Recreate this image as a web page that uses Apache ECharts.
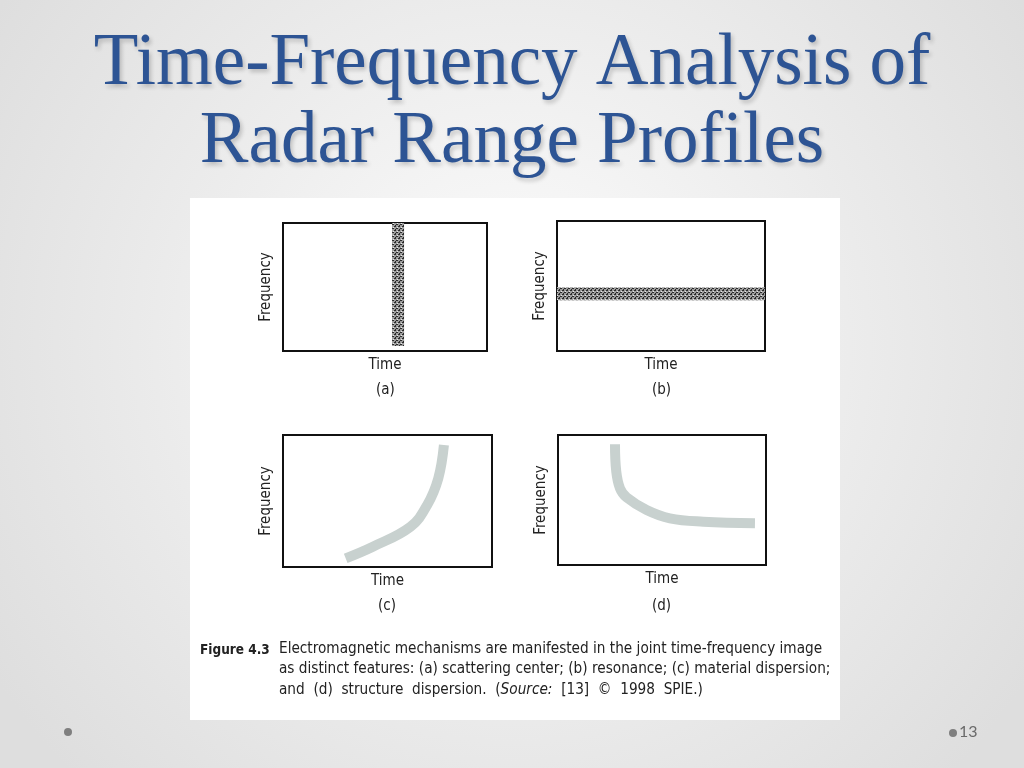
<!DOCTYPE html>
<html>
<head>
<meta charset="utf-8">
<script src="https://cdn.jsdelivr.net/npm/echarts@6/dist/echarts.min.js"></script>
<style>html,body{margin:0;padding:0;background:#eee;}#main{width:1024px;height:768px;}</style>
</head>
<body>
<div id="main"></div>
<script>
// ---- data ----
const slideTitle = ['Time-Frequency Analysis of', 'Radar Range Profiles'];
const panelLabels = ['(a)', '(b)', '(c)', '(d)'];
const xAxisName = 'Time';
const yAxisName = 'Frequency';
// (a) scattering center: vertical line at fixed time
const scatterCenter = [[5.64, 0.39], [5.64, 10]];
// (b) resonance: horizontal line at fixed frequency
const resonance = [[0, 4.4], [10, 4.4]];
// (c) material dispersion
const materialDispersion = [[3.0, 0.66], [4.3, 1.54], [6.1, 3.05], [6.9, 4.7], [7.43, 6.72], [7.7, 9.24]];
// (d) structure dispersion
const structureDispersion = [[2.74, 9.28], [2.8, 7.2], [2.98, 5.9], [3.3, 5.2], [4.26, 4.23], [5.38, 3.59], [6.99, 3.33], [9.47, 3.21]];
const captionLabel = 'Figure 4.3';
const captionLines = [
  'Electromagnetic mechanisms are manifested in the joint time-frequency image',
  'as distinct features: (a) scattering center; (b) resonance; (c) material dispersion;'
];
const captionLast = ['and  (d)  structure  dispersion.  (', 'Source:', '  [13]  \u00A9  1998  SPIE.)'];
const pageNumber = '13';

// ---- rendering ----
function makePattern() {
  const c = document.createElement('canvas');
  c.width = 4; c.height = 4;
  const g = c.getContext('2d');
  g.fillStyle = '#9c9c9c'; g.fillRect(0, 0, 4, 4);
  g.fillStyle = '#2a2a2a';
  g.fillRect(0, 0, 2, 1); g.fillRect(2, 2, 2, 1); g.fillRect(3, 1, 1, 1);
  g.fillStyle = '#e8e8e8';
  g.fillRect(1, 3, 1, 1);
  return {image: c, repeat: 'repeat'};
}
const pat = makePattern();

const grids = [
  {left: 283, top: 223, width: 204, height: 128},
  {left: 557, top: 221, width: 208, height: 130},
  {left: 283, top: 435, width: 209, height: 132},
  {left: 558, top: 435, width: 208, height: 130}
];
const figFont = '"DejaVu Sans Condensed", "Liberation Sans", sans-serif';
const capSize = 15.2;

const chart = echarts.init(document.getElementById('main'));
const option = {
  animation: false,
  backgroundColor: {type: 'radial', x: 0.5, y: 0.45, r: 0.8,
    colorStops: [{offset: 0, color: '#fdfdfd'}, {offset: 1, color: '#dedede'}]},
  title: {
    text: slideTitle.join('\n'), left: 'center', top: 21,
    textStyle: {fontFamily: '"Liberation Serif", serif', fontSize: 73, fontWeight: 'normal',
      color: '#2d5494', lineHeight: 78,
      textShadowColor: 'rgba(0,0,0,0.2)', textShadowBlur: 4, textShadowOffsetX: 2, textShadowOffsetY: 3}
  },
  grid: grids.map(g => Object.assign({show: true, borderColor: '#111', borderWidth: 2, backgroundColor: '#fff'}, g)),
  xAxis: grids.map((g, i) => ({
    gridIndex: i, type: 'value', min: 0, max: 10,
    name: xAxisName, nameLocation: 'middle', nameGap: 7,
    nameTextStyle: {fontFamily: figFont, fontSize: 15, color: '#222'},
    axisLine: {show: false}, axisTick: {show: false}, axisLabel: {show: false}, splitLine: {show: false}
  })),
  yAxis: grids.map((g, i) => ({
    gridIndex: i, type: 'value', min: 0, max: 10,
    name: yAxisName, nameLocation: 'middle', nameGap: 9, nameRotate: 90,
    nameTextStyle: {fontFamily: figFont, fontSize: 15, color: '#222'},
    axisLine: {show: false}, axisTick: {show: false}, axisLabel: {show: false}, splitLine: {show: false}
  })),
  series: [
    {type: 'line', xAxisIndex: 0, yAxisIndex: 0, data: scatterCenter, symbol: 'none',
      lineStyle: {width: 12, color: pat, cap: 'butt'}},
    {type: 'line', xAxisIndex: 1, yAxisIndex: 1, data: resonance, symbol: 'none',
      lineStyle: {width: 13, color: pat, cap: 'butt'}},
    {type: 'line', xAxisIndex: 2, yAxisIndex: 2, data: materialDispersion, symbol: 'none', smooth: 0.4,
      lineStyle: {width: 10, color: '#c8d1cf', cap: 'butt'}},
    {type: 'line', xAxisIndex: 3, yAxisIndex: 3, data: structureDispersion, symbol: 'none', smooth: 0.4,
      lineStyle: {width: 10, color: '#c8d1cf', cap: 'butt'}}
  ],
  graphic: [
    {type: 'rect', z: -10, shape: {x: 190, y: 198, width: 650, height: 522}, style: {fill: '#fff'}},
    {type: 'text', left: 376, top: 383, style: {text: panelLabels[0], font: '15px ' + figFont, fill: '#222'}},
    {type: 'text', left: 652, top: 383, style: {text: panelLabels[1], font: '15px ' + figFont, fill: '#222'}},
    {type: 'text', left: 378, top: 599, style: {text: panelLabels[2], font: '15px ' + figFont, fill: '#222'}},
    {type: 'text', left: 652, top: 599, style: {text: panelLabels[3], font: '15px ' + figFont, fill: '#222'}},
    {type: 'text', left: 200, top: 643, style: {text: captionLabel, font: 'bold 13.5px ' + figFont, fill: '#222'}},
    {type: 'text', left: 279, top: 642, style: {text: captionLines[0], font: capSize + 'px ' + figFont, fill: '#222'}},
    {type: 'text', left: 279, top: 662, style: {text: captionLines[1], font: capSize + 'px ' + figFont, fill: '#222'}},
    {type: 'text', left: 279, top: 683, style: {
      text: '{n|' + captionLast[0] + '}{i|' + captionLast[1] + '}{n|' + captionLast[2] + '}',
      rich: {n: {font: capSize + 'px ' + figFont, fill: '#222'}, i: {font: 'italic ' + capSize + 'px ' + figFont, fill: '#222'}}}},
    {type: 'circle', shape: {cx: 68, cy: 732, r: 4}, style: {fill: '#7f7f7f'}},
    {type: 'circle', shape: {cx: 953, cy: 733, r: 4}, style: {fill: '#7f7f7f'}},
    {type: 'text', left: 959, top: 724, style: {text: pageNumber, font: '16px Lato, sans-serif', fill: '#6a6a6a'}}
  ]
};
chart.setOption(option);
</script>
</body>
</html>
